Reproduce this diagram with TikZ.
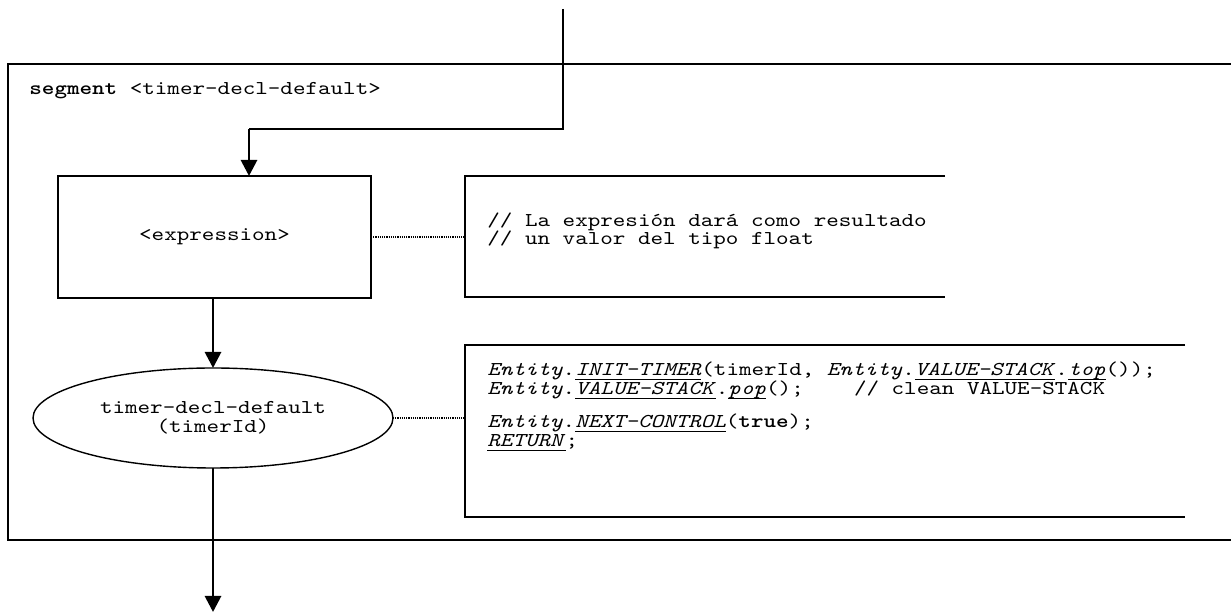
\documentclass[tikz,border=0pt]{standalone}
\usepackage{fontspec}
\newfontfamily\cf{lmmono10-regular.otf}[FakeStretch=1.22, BoldFont=lmmonolt10-bold.otf, ItalicFont=lmmono10-italic.otf]
\usetikzlibrary{arrows.meta,shapes.geometric}
\newcommand\myul[1]{\setbox0=\hbox{#1}\rlap{\rule[-1.9pt]{\wd0}{0.55pt}}\box0}
\tikzset{
  thinln/.style={line width=0.7pt},
  flow/.style={line width=1.4pt,-{Triangle[length=8pt,width=8pt]}},
  dots/.style={line width=0.8pt,dash pattern=on 0.55pt off 0.55pt},
  txt/.style={font=\cf\fontsize{9.8pt}{9.5pt}\selectfont, inner sep=0pt, anchor=base west},
  boxtxt/.style={font=\cf\fontsize{9.8pt}{9.5pt}\selectfont},
  blank/.style={inner sep=0pt, outer sep=0pt},
}
\frenchspacing
\begin{document}
\begin{tikzpicture}[x=0.5pt,y=-0.5pt]
\useasboundingbox (0,0) rectangle (1231,613);
% segment frame (open to the right)
\draw[thinln] (1232,64) -- (8,64) -- (8,540) -- (1232,540);
\node[txt] (seg) at (29,95) {\textbf{segment} <timer-decl-default>};

% expression box
\node[draw, thinln, blank, minimum width=156.5pt, minimum height=61pt, boxtxt] (expr) at (214.5,237) {<expression>};

% incoming connector
\coordinate (in) at (563,9);
\coordinate (bend) at (563,129);
\coordinate (knee) at (249,129);
\draw[thinln] (in) -- (bend) -- (knee);
\draw[flow] (knee) -- (knee |- expr.north);

% comment 1
\node[blank, minimum width=240pt, minimum height=60.5pt] (note1) at (705,236.5) {};
\draw[thinln] (note1.north east) -- (note1.north west) -- (note1.south west) -- (note1.south east);
\draw[dots] (expr.east) -- (expr.east -| note1.west);
\node[txt] (c1a) at (487,227) {// La expresión dará como resultado};
\node[txt] (c1b) at (487,245) {// un valor del tipo float};

% ellipse
\node[draw, thinln, ellipse, blank, minimum width=180pt, minimum height=50pt, align=center, boxtxt] (ell) at (213,418) {timer-decl-default\\(timerId)};
\draw[flow] (ell.north |- expr.south) -- (ell.north);

% comment 2
\node[blank, minimum width=360pt, minimum height=86pt] (note2) at (825,431) {};
\draw[thinln] (note2.north east) -- (note2.north west) -- (note2.south west) -- (note2.south east);
\draw[dots] (ell.east) -- (ell.east -| note2.west);
\node[txt] (c2a) at (487,376) {\textit{Entity}.\myul{\textit{INIT-TIMER}}(timerId, \textit{Entity}.\myul{\textit{VALUE-STACK}}.\myul{\textit{top}}());};
\node[txt] (c2b) at (487,395) {\textit{Entity}.\myul{\textit{VALUE-STACK}}.\myul{\textit{pop}}();\ \ \ \ // clean VALUE-STACK};
\node[txt] (c2c) at (487,428) {\textit{Entity}.\myul{\textit{NEXT-CONTROL}}(\textbf{true});};
\node[txt] (c2d) at (487,447) {\myul{\textit{RETURN}};};

% outgoing connector
\coordinate (out) at (213,612);
\draw[flow] (ell.south) -- (out);
\end{tikzpicture}
\end{document}
